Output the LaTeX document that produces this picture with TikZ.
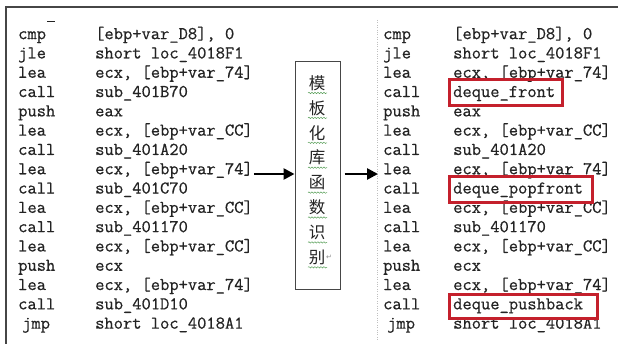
\documentclass[tikz,border=0pt]{standalone}
\usepackage{fontspec}
\newfontfamily\codefont{Latin Modern Mono}[FakeBold=0.6]
\newfontfamily\cjk{Noto Sans CJK SC}
\newfontfamily\dejavu{DejaVu Sans}
\usetikzlibrary{arrows.meta,decorations.pathmorphing}
\definecolor{boxred}{RGB}{196,32,44}
\definecolor{frame}{RGB}{70,70,70}
\definecolor{asm}{RGB}{35,35,35}
\definecolor{wavy}{RGB}{90,160,90}
\begin{document}
\begin{tikzpicture}[x=1pt,y=-1pt,
  code/.style={font=\codefont\fontsize{18}{18}\selectfont, text=asm, anchor=mid west, inner sep=0pt},
  hl/.style={draw=boxred, line width=3pt},
  flow/.style={line width=2.6pt, -{Triangle[length=11pt,width=11pt]}},
  cjkchar/.style={font=\cjk\fontsize{16.5}{17}\selectfont, inner sep=0pt, text=asm}]
\useasboundingbox (0,0) rectangle (618,344);
% frame
\draw[frame, line width=1.8pt] (6,344) -- (6,7) -- (618,7);
\draw[black!25, dotted] (377,20) -- (377,340);
\draw[asm, line width=1pt] (47,22) -- (55,22);
% left column
\foreach \i/\m/\o in {0/cmp/{[ebp+var\_D8], 0},1/jle/{short loc\_4018F1},2/lea/{ecx, [ebp+var\_74]},3/call/{sub\_401B70},4/push/{eax},5/lea/{ecx, [ebp+var\_CC]},6/call/{sub\_401A20},7/lea/{ecx, [ebp+var\_74]},8/call/{sub\_401C70},9/lea/{ecx, [ebp+var\_CC]},10/call/{sub\_401170},11/lea/{ecx, [ebp+var\_CC]},12/push/{ecx},13/lea/{ecx, [ebp+var\_74]},14/call/{sub\_401D10}}{
  \node[code] (lm\i) at (18,37+19.3*\i) {\m};
  \node[code] (lo\i) at (95,37+19.3*\i) {\o};
}
\node[code] (lm15) at (22,37+19.3*15) {jmp};
\node[code] (lo15) at (95,37+19.3*15) {short loc\_4018A1};
% right column
\foreach \i/\m/\o in {0/cmp/{[ebp+var\_D8], 0},1/jle/{short loc\_4018F1},2/lea/{ecx, [ebp+var\_74]},3/call/{deque\_front},4/push/{eax},5/lea/{ecx, [ebp+var\_CC]},6/call/{sub\_401A20},7/lea/{ecx, [ebp+var\_74]},8/call/{deque\_popfront},9/lea/{ecx, [ebp+var\_CC]},10/call/{sub\_401170},11/lea/{ecx, [ebp+var\_CC]},12/push/{ecx},13/lea/{ecx, [ebp+var\_74]},14/call/{deque\_pushback}}{
  \node[code] (rm\i) at (383,37+19.3*\i) {\m};
  \node[code] (ro\i) at (453,37+19.3*\i) {\o};
}
\node[code] (rm15) at (387,37+19.3*15) {jmp};
\node[code] (ro15) at (453,37+19.3*15) {short loc\_4018A1};
% highlight boxes
\draw[hl] (449,80) rectangle (562,106);
\draw[hl] (449,177) rectangle (592,203);
\draw[hl] (449,295) rectangle (597,319);
% middle box
\node[draw=frame, line width=1pt, minimum width=45pt, minimum height=228pt, inner sep=0pt] (mid) at (317.5,176) {};
\foreach \c [count=\k from 0] in {模,板,化,库,函,数,识,别}{
  \node[cjkchar] (c\k) at (317,83+24.9*\k) {\c};
  \draw[wavy, line width=0.5pt, decorate, decoration={snake, amplitude=0.7pt, segment length=3pt}] (308,93+24.9*\k) -- (327,93+24.9*\k);
}
\node[font=\dejavu\fontsize{7}{8}\selectfont, text=black!45, anchor=west, inner sep=0.5pt] (pm) at (c7.east) {↵};
% arrows
\coordinate (a0) at ([xshift=1pt,yshift=-4pt]lo7.east);
\coordinate (a1) at ([xshift=4pt]mid.east |- a0);
\draw[flow] (a0) -- (a0 -| mid.west);
\draw[flow, shorten >=5pt] (a1) -- (a1 -| rm7.west);
\end{tikzpicture}
\end{document}
